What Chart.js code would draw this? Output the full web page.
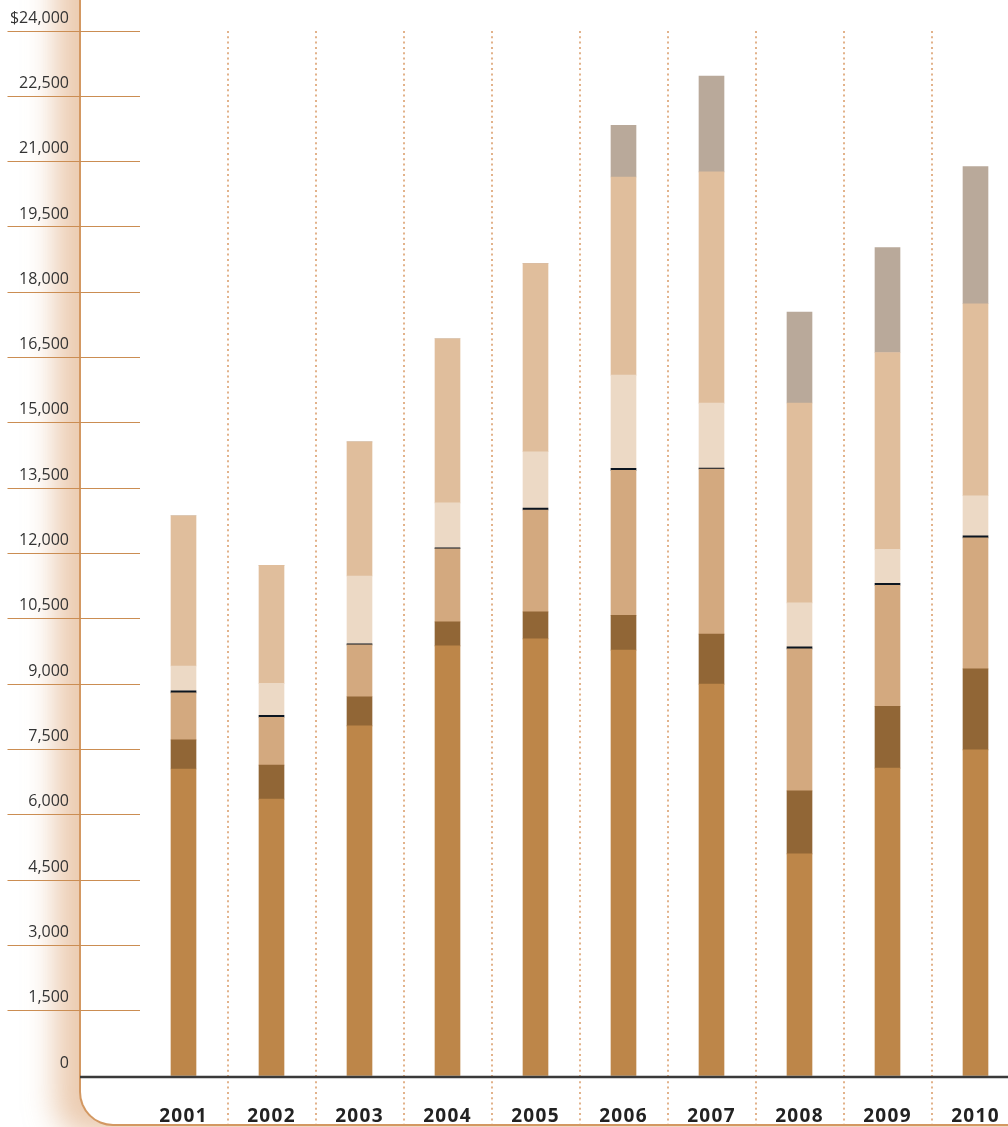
<!DOCTYPE html>
<html>
<head>
<meta charset="utf-8">
<script src="https://cdn.jsdelivr.net/npm/chart.js@4/dist/chart.umd.min.js"></script>
<style>
  html, body { margin: 0; padding: 0; background: #ffffff; overflow: hidden; width: 1008px; height: 1127px; }
  #frame {
    position: absolute; left: 79px; top: -60px; width: 1000px; height: 1186px;
    box-sizing: border-box;
    border-left: 2px solid #D39862; border-bottom: 2px solid #D39862;
    border-bottom-left-radius: 34px;
    background: #ffffff;
    box-shadow: -26px 12px 30px -2px rgba(218, 160, 112, 0.55);
  }
  #c { position: absolute; left: 0; top: 0; }
</style>
</head>
<body>
<div id="frame"></div>
<canvas id="c" width="1024" height="1127"></canvas>
<script>
const years   = ['2001','2002','2003','2004','2005','2006','2007','2008','2009','2010'];
const base    = [7050, 6360, 8040, 9880, 10040, 9780, 9000, 5100, 7070, 7490];
const dark    = [670, 780, 670, 550, 620, 800, 1150, 1450, 1420, 1860];
const medium  = [1080, 1100, 1190, 1680, 2340, 3330, 3790, 3260, 2780, 3010];
const rule    = [46, 46, 23, 23, 46, 46, 23, 46, 46, 46];
const light   = [570, 730, 1560, 1030, 1290, 2140, 1490, 1010, 780, 920];
const tan     = [3450, 2710, 3080, 3770, 4320, 4550, 5310, 4590, 4520, 4410];
const grey    = [0, 0, 0, 0, 0, 1190, 2200, 2090, 2410, 3150];
const yMin = 0, yMax = 24000, yStep = 1500;

const zeroLine = {
  id: 'zeroLine',
  afterDatasetsDraw(chart) {
    // x-axis labels (z=1) are drawn after this point: give them letter spacing
    chart.ctx.letterSpacing = '1.3px';
  },
  afterDraw(chart) {
    const ctx = chart.ctx;
    ctx.letterSpacing = '0px';
    const y = chart.scales.y.getPixelForValue(0) + 1;
    ctx.save();
    ctx.strokeStyle = '#3a3a3a';
    ctx.lineWidth = 2.5;
    ctx.beginPath();
    ctx.moveTo(80, y);
    ctx.lineTo(chart.width, y);
    ctx.stroke();
    ctx.restore();
  }
};

function ds(label, data, color) {
  return { label, data, backgroundColor: color, borderWidth: 0, barThickness: 25, stack: 's' };
}

new Chart(document.getElementById('c'), {
  type: 'bar',
  data: {
    labels: years,
    datasets: [
      ds('base', base, '#BD8649'),
      ds('dark', dark, '#916636'),
      ds('medium', medium, '#D3A97F'),
      ds('rule', rule, '#0B1520'),
      ds('light', light, '#ECD9C5'),
      ds('tan', tan, '#E0BE9C'),
      ds('grey', grey, '#B9A99A')
    ]
  },
  options: {
    responsive: false,
    animation: false,
    layout: { padding: { top: 31, right: 4.5, left: 0, bottom: 0 } },
    plugins: { legend: { display: false }, tooltip: { enabled: false } },
    scales: {
      x: {
        stacked: true,
        afterFit(scale) { scale.height = 51; },
        grid: {
          display: true,
          drawOnChartArea: true,
          drawTicks: true,
          tickLength: 48,
          lineWidth: 2,
          color: (c) => c.index === 0 ? 'rgba(0,0,0,0)' : '#E2B28A',
          tickBorderDash: [2, 3.3]
        },
        border: { display: false, dash: [2, 3.3] },
        ticks: {
          z: 1,
          color: '#222222',
          font: { family: 'Open Sans', size: 19, weight: 'bold' },
          padding: -19
        }
      },
      y: {
        stacked: true,
        min: yMin, max: yMax,
        afterFit(scale) { scale.width = 139.5; },
        grid: {
          drawOnChartArea: false,
          drawTicks: true,
          tickLength: 132,
          lineWidth: 1,
          color: (c) => (c.tick && c.tick.value === 0) ? 'rgba(0,0,0,0)' : '#CB8D52'
        },
        border: { display: false },
        ticks: {
          stepSize: yStep,
          color: '#333333',
          font: { family: 'Open Sans', size: 16 },
          padding: -61.5,
          labelOffset: -13,
          callback: (v) => (v === yMax ? '$' : '') + Number(v).toLocaleString('en-US')
        }
      }
    }
  },
  plugins: [zeroLine]
});
</script>
</body>
</html>
